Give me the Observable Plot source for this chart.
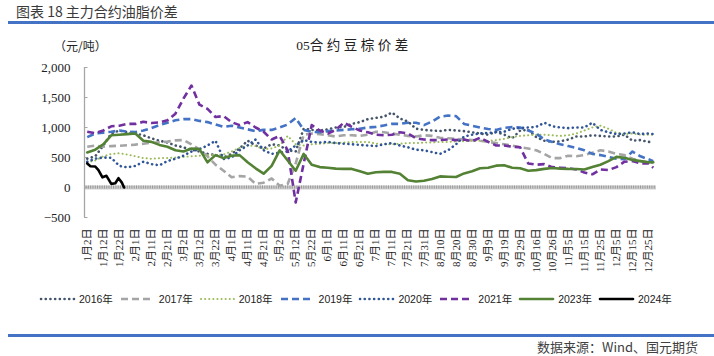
<!DOCTYPE html>
<html><head><meta charset="utf-8">
<script src="https://cdn.jsdelivr.net/npm/d3@7"></script>
<script src="https://cdn.jsdelivr.net/npm/@observablehq/plot@0.6"></script>
<style>
body{margin:0;background:#fff;}
#page{position:relative;width:714px;height:356px;overflow:hidden;background:#fff;font-family:"Noto Sans CJK SC",sans-serif;}
.abs{position:absolute;white-space:nowrap;}
#hdr{left:16px;top:2px;font-size:14px;line-height:18px;color:#3a3a3a;}
#hline{left:8px;top:21px;width:706px;height:2.5px;background:#4472C4;}
#unit{left:54px;top:38px;font-size:12px;line-height:16px;color:#222;font-family:"Noto Sans CJK SC",serif;}
#title{left:254px;width:200px;text-align:center;top:37px;font-size:13.5px;line-height:18px;color:#222;font-family:"Liberation Serif","Noto Sans CJK SC",serif;}
#title .cj{letter-spacing:3.5px;}
#chart{left:0;top:0;}
#legend{left:39px;top:291px;display:flex;gap:6px;align-items:center;font-family:"Liberation Sans","Noto Sans CJK SC",sans-serif;font-size:10.5px;color:#222;}
#legend .it{display:flex;align-items:center;gap:3px;}
#bline{left:8px;top:334px;width:706px;height:2.5px;background:#4472C4;}
#src{right:16px;top:338px;font-size:13px;line-height:18px;color:#404040;}
</style>
</head><body>
<div id="page">
  <div id="hdr" class="abs">图表 18 主力合约油脂价差</div>
  <div id="hline" class="abs"></div>
  <div id="unit" class="abs">（元/吨）</div>
  <div id="title" class="abs">05<span class="cj">合约豆棕价差</span></div>
  <div id="chart" class="abs"></div>
  <div id="legend" class="abs"></div>
  <div id="bline" class="abs"></div>
  <div id="src" class="abs">数据来源：Wind、国元期货</div>
</div>
<script>
// category labels (every 10th calendar day), positions 0..35
const xLabels = ["1月2日","1月12日","1月22日","2月1日","2月11日","2月21日","3月2日","3月12日","3月22日","4月1日","4月11日","4月21日","5月2日","5月12日","5月22日","6月1日","6月11日","6月21日","7月1日","7月11日","7月21日","7月31日","8月10日","8月20日","8月30日","9月9日","9月19日","9月29日","10月16日","10月26日","11月5日","11月15日","11月25日","12月5日","12月15日","12月25日"];
const yTicks = [-500, 0, 500, 1000, 1500, 2000];
const seriesNames = ["2016年","2017年","2018年","2019年","2020年","2021年","2023年","2024年"];

// sample positions (in label units) shared by the full-year series
const xs = [...d3.range(0, 35.5, 0.5), 35.3];

const s2016 = [480,520,700,900,950,920,900,870,820,780, 750,700,670,630,600,560,540,500,560,650, 780,700,650,720,700,620,600,980,960,950, 970,1000,1010,1060,1090,1140,1160,1180,1250,1150, 1100,980,960,950,940,960,950,940,920,900, 880,930,880,820,950,960,840,780,760,770, 800,850,850,870,860,850,850,880,780,790, 760,760];
const s2017 = [680,700,680,690,695,705,715,730,745,755, 765,785,790,720,630,520,380,280,170,190, 180,60,80,150,30,60,400,880,900,890, 870,850,870,870,860,880,930,920,900,880, 860,850,870,860,830,820,810,800,790,780, 760,740,720,700,670,650,620,560,490,490, 530,520,540,580,620,600,560,540,480,440, 420,410];
const s2018 = [420,450,520,560,570,550,520,490,480,490, 490,500,510,520,530,540,540,550,600,660, 700,690,640,650,700,860,720,700,720,730, 740,740,750,760,760,760,730,720,720,730, 740,740,750,750,760,760,770,770,780,780, 780,790,810,840,860,870,880,880,870,860, 870,900,950,1000,1030,980,910,890,900,880, 880,880];
const s2019 = [840,900,915,930,950,930,925,950,990,1040, 1080,1120,1140,1140,1110,1090,1050,1010,1030,1000, 970,940,960,960,1000,1050,1160,960,930,920, 940,950,960,970,980,1000,1010,1034,1060,1060, 1080,1080,1040,1100,1180,1200,1190,1060,1030,1000, 975,960,995,1006,1000,950,900,800,760,720, 690,660,620,560,540,510,480,470,600,520, 470,440];
const s2020 = [430,480,500,495,360,336,360,430,390,370, 440,480,530,600,640,700,780,475,500,620, 700,800,620,560,580,600,700,790,760,750, 760,740,730,720,710,700,690,720,740,700, 670,630,620,590,560,620,720,850,880,900, 910,920,930,980,990,1000,1010,1080,1020,1000, 990,1000,1000,1080,960,920,890,900,920,890, 900,890];
const s2021 = [930,905,950,1020,1030,1060,1060,1095,1075,1085, 1120,1230,1480,1700,1380,1310,1175,1190,1090,1040, 1090,1000,930,800,860,620,-250,400,1040,950, 900,960,1080,1010,950,920,880,870,880,920, 900,820,800,790,790,800,790,800,770,830, 760,700,700,680,670,400,380,390,340,330, 320,300,250,220,300,290,340,430,440,400, 400,330];
const s2023 = [585,630,720,870,880,890,900,780,760,710, 680,620,600,650,640,420,540,490,530,540, 420,320,230,360,620,450,280,560,380,340, 330,315,310,310,270,230,255,260,260,230, 120,100,113,140,185,180,175,235,270,320, 330,364,370,330,320,280,290,310,325,315, 310,308,300,340,380,440,510,495,460,440, 420,420];
const x2024 = [0,0.2,0.5,0.7,0.95,1.2,1.5,1.75,1.95,2.15,2.3];
const s2024 = [400,355,350,290,170,195,60,70,155,85,0];

const styles = [
  {stroke:"#44546A", strokeWidth:2.6, dash:"0.1 4.6", cap:"round"},
  {stroke:"#A5A5A5", strokeWidth:2.6, dash:"7 4", cap:"butt"},
  {stroke:"#9BBB59", strokeWidth:2, dash:"0.1 4", cap:"round"},
  {stroke:"#4472C4", strokeWidth:2.6, dash:"7 4", cap:"butt"},
  {stroke:"#2F5597", strokeWidth:2.6, dash:"0.1 4.6", cap:"round"},
  {stroke:"#7030A0", strokeWidth:2.6, dash:"7 4", cap:"butt"},
  {stroke:"#548235", strokeWidth:2.6, dash:null, cap:"round"},
  {stroke:"#000000", strokeWidth:2.6, dash:null, cap:"round"}
];

const full = [s2016, s2017, s2018, s2019, s2020, s2021, s2023];
const seriesData = full.map((vals, k) => vals.map((v, j) => ({x: xs[j], y: v, k})));
seriesData.push(s2024.map((v, j) => ({x: x2024[j], y: v, k: 7})));

const xMin = -0.17, xMax = 35.5;
const dayTicks = d3.range(xMin + 0.1, xMax, 1 / 7);

const lineMarks = seriesData.map((d, k) => {
  const s = styles[k];
  const o = {x: "x", y: "y", stroke: s.stroke, strokeWidth: s.strokeWidth, strokeLinecap: s.cap, strokeLinejoin: "round"};
  if (s.dash) o.strokeDasharray = s.dash;
  return Plot.line(d, o);
});

const chart = Plot.plot({
  width: 714, height: 290,
  marginLeft: 84, marginRight: 58, marginTop: 67, marginBottom: 73,
  x: {domain: [xMin, xMax], label: null},
  y: {domain: [-500, 2000], label: null},
  style: {fontFamily: "'Liberation Serif','Noto Sans CJK SC',serif", fontSize: "13px", color: "#222", background: "transparent", overflow: "visible"},
  marks: [
    Plot.ruleY([0], {stroke: "#cfcfcf", strokeWidth: 4}),
    Plot.ruleX(dayTicks, {y1: -27, y2: 27, stroke: "#8c8c8c", strokeWidth: 0.8}),
    Plot.ruleX([xMin], {y1: -500, y2: 2000, stroke: "#a6a6a6", strokeWidth: 1.3}),
    Plot.ruleY(yTicks, {x1: xMin, x2: xMin + 0.22, stroke: "#a6a6a6", strokeWidth: 1}),
    Plot.axisY({ticks: yTicks, tickFormat: d3.format(","), tickSize: 0, tickPadding: 14, fontSize: 13, label: null}),
    Plot.axisX({ticks: d3.range(xLabels.length), tickFormat: i => xLabels[i], tickRotate: -90, tickSize: 0, tickPadding: 11, fontSize: 11, label: null}),
    ...lineMarks
  ]
});
document.getElementById("chart").appendChild(chart);

// legend
const lg = document.getElementById("legend");
seriesNames.forEach((name, k) => {
  const s = styles[k];
  const it = document.createElement("span");
  it.className = "it";
  it.innerHTML = `<svg width="37" height="6"><line x1="2" y1="3" x2="35" y2="3" stroke="${s.stroke}" stroke-width="${s.strokeWidth}" stroke-linecap="${s.cap}" ${s.dash ? `stroke-dasharray="${s.dash}"` : ""}/></svg><span>${name}</span>`;
  lg.appendChild(it);
});
</script>
</body></html>
